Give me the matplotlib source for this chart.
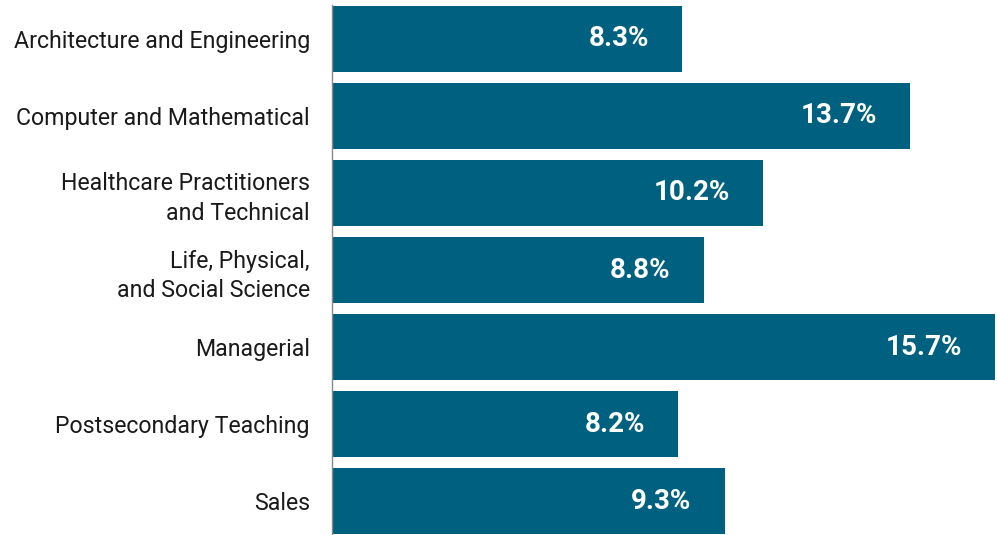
import matplotlib.pyplot as plt

categories = ['Architecture and Engineering', 'Computer and Mathematical',
              'Healthcare Practitioners\nand Technical', 'Life, Physical,\nand Social Science',
              'Managerial', 'Postsecondary Teaching', 'Sales']
values = [8.3, 13.7, 10.2, 8.8, 15.7, 8.2, 9.3]
labels = ['8.3%', '13.7%', '10.2%', '8.8%', '15.7%', '8.2%', '9.3%']

plt.rcParams['font.family'] = ['Roboto', 'DejaVu Sans']

fig = plt.figure(figsize=(9.97, 5.35), dpi=100)
ax = fig.add_axes([332/997, 0, 665/997, 530/535])

y = list(range(len(categories)))
ax.barh(y, values, height=0.857, color='#00607f')

for i, v in enumerate(values):
    ax.annotate(labels[i], (v, i), xytext=(-33, 0), textcoords='offset pixels',
                ha='right', va='center', color='white', fontsize=20, fontweight='bold')

ax.set_xlim(0, 15.75)
ax.set_ylim(6.44, -0.44)
ax.set_yticks(y)
ax.set_yticklabels(categories, fontsize=16.7, linespacing=1.36, color='#1a1a1a')
ax.tick_params(axis='y', length=0, pad=16)
ax.set_xticks([])
for s in ['top', 'right', 'bottom']:
    ax.spines[s].set_visible(False)
ax.spines['left'].set_color('#888888')
ax.spines['left'].set_linewidth(1)

fig.savefig('out.png', dpi=100)
